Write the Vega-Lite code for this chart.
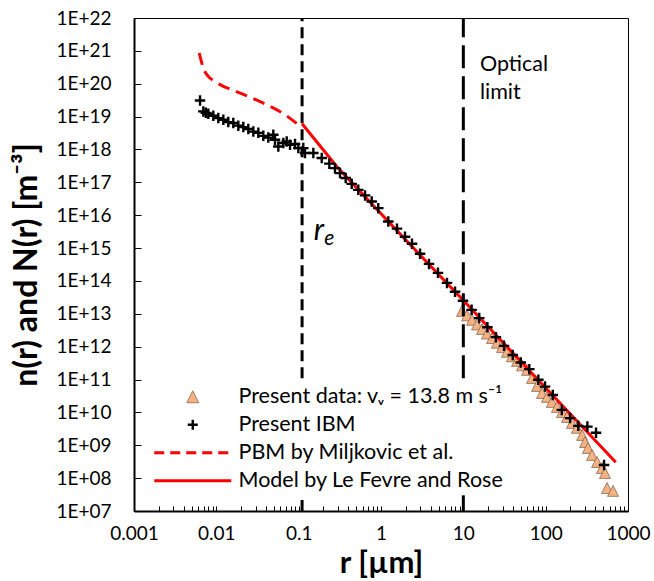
{
  "$schema": "https://vega.github.io/schema/vega-lite/v6.json",
  "width": 494,
  "height": 493,
  "autosize": {"type": "none"},
  "padding": {"left": 134, "top": 18, "right": 26, "bottom": 70},
  "background": "white",
  "config": {
    "view": {"stroke": "black", "strokeWidth": 1},
    "font": "Lato",
    "axis": {"grid": false, "domainColor": "black", "domainWidth": 2, "tickColor": "black", "tickWidth": 1, "labelColor": "black", "titleColor": "black", "labelFont": "Lato", "titleFont": "Lato"},
    "legend": {"title": null, "orient": "none", "direction": "vertical", "symbolSize": 100, "labelFontSize": 21.5, "labelFont": "Lato", "labelColor": "black", "labelOffset": 35, "padding": 0, "labelLimit": 400, "legendX": 48}
  },
  "resolve": {"scale": {"shape": "independent"}, "legend": {"shape": "independent"}},
  "datasets": {
    "present": [
      {"r": 9.64, "n": 1.23e13}, {"r": 11.09, "n": 8.97e12}, {"r": 12.74, "n": 6.55e12}, {"r": 14.65, "n": 4.74e12},
      {"r": 16.85, "n": 3.44e12}, {"r": 19.4, "n": 2.51e12}, {"r": 22.3, "n": 1.83e12}, {"r": 25.6, "n": 1.32e12},
      {"r": 29.5, "n": 9.7e11}, {"r": 33.9, "n": 7.0e11}, {"r": 39.0, "n": 5.1e11}, {"r": 44.9, "n": 3.7e11},
      {"r": 51.6, "n": 2.7e11}, {"r": 59.4, "n": 1.97e11}, {"r": 68.3, "n": 1.12e11}, {"r": 78.6, "n": 6.4e10},
      {"r": 90.3, "n": 3.9e10}, {"r": 104, "n": 2.97e10}, {"r": 119, "n": 2.09e10}, {"r": 137, "n": 1.47e10},
      {"r": 158, "n": 1.03e10}, {"r": 182, "n": 7.3e9}, {"r": 209, "n": 4.8e9}, {"r": 240, "n": 3.4e9},
      {"r": 277, "n": 2.07e9}, {"r": 301, "n": 1.26e9}, {"r": 327, "n": 8.3e8}, {"r": 366, "n": 5.1e8},
      {"r": 421, "n": 3.1e8}, {"r": 484, "n": 2.04e8}, {"r": 526, "n": 1.44e8}, {"r": 556, "n": 5.0e7},
      {"r": 658, "n": 4.1e7}
    ],
    "ibm": [
      {"r": 0.00634, "n": 3.10e19}, {"r": 0.00695, "n": 1.44e19}, {"r": 0.00745, "n": 1.30e19}, {"r": 0.00799, "n": 1.22e19}, {"r": 0.00919, "n": 1.06e19},
      {"r": 0.01057, "n": 9.0e18}, {"r": 0.01216, "n": 8.0e18}, {"r": 0.01397, "n": 6.8e18}, {"r": 0.01607, "n": 6.4e18},
      {"r": 0.01849, "n": 5.3e18}, {"r": 0.02127, "n": 4.8e18}, {"r": 0.02446, "n": 4.2e18}, {"r": 0.02813, "n": 3.5e18},
      {"r": 0.03236, "n": 3.2e18}, {"r": 0.0372, "n": 2.6e18}, {"r": 0.0428, "n": 2.3e18}, {"r": 0.0492, "n": 2.8e18},
      {"r": 0.0516, "n": 1.97e18}, {"r": 0.0566, "n": 1.23e18}, {"r": 0.0651, "n": 1.57e18}, {"r": 0.0716, "n": 1.75e18},
      {"r": 0.0785, "n": 1.39e18}, {"r": 0.0903, "n": 1.46e18}, {"r": 0.0991, "n": 1.10e18}, {"r": 0.1138, "n": 1.10e18},
      {"r": 0.1194, "n": 7.8e17}, {"r": 0.1507, "n": 7.8e17}, {"r": 0.1906, "n": 5.5e17}, {"r": 0.2357, "n": 3.7e17},
      {"r": 0.2761, "n": 2.7e17}, {"r": 0.3177, "n": 1.91e17}, {"r": 0.3725, "n": 1.35e17}, {"r": 0.4406, "n": 9.0e16},
      {"r": 0.530, "n": 5.9e16}, {"r": 0.640, "n": 4.0e16}, {"r": 0.771, "n": 2.6e16}, {"r": 0.927, "n": 1.64e16},
      {"r": 1.227, "n": 6.4e15}, {"r": 1.564, "n": 3.9e15}, {"r": 1.957, "n": 2.2e15}, {"r": 2.38, "n": 1.35e15},
      {"r": 2.98, "n": 6.7e14}, {"r": 3.83, "n": 3.3e14}, {"r": 4.92, "n": 1.76e14}, {"r": 6.33, "n": 8.7e13},
      {"r": 7.93, "n": 4.7e13}, {"r": 9.9, "n": 2.5e13}, {"r": 12.6, "n": 1.32e13}, {"r": 15.6, "n": 7.4e12},
      {"r": 19.6, "n": 3.9e12}, {"r": 24.9, "n": 1.95e12}, {"r": 31.2, "n": 1.06e12}, {"r": 39.8, "n": 5.6e11},
      {"r": 49.8, "n": 3.3e11}, {"r": 63.3, "n": 2.07e11}, {"r": 81.5, "n": 9.8e10}, {"r": 98.2, "n": 6.1e10},
      {"r": 122, "n": 3.4e10}, {"r": 157, "n": 1.19e10}, {"r": 198, "n": 6.7e9}, {"r": 249, "n": 3.9e9},
      {"r": 321, "n": 3.7e9}, {"r": 409, "n": 2.4e9}, {"r": 512, "n": 2.5e8}
    ],
    "pbm": [
      {"r": 0.0062, "n": 8.6e20}, {"r": 0.00695, "n": 3.0e20}, {"r": 0.00798, "n": 1.67e20}, {"r": 0.00964, "n": 1.17e20},
      {"r": 0.01216, "n": 8.3e19}, {"r": 0.01466, "n": 6.9e19}, {"r": 0.02446, "n": 4.1e19}, {"r": 0.0409, "n": 2.3e19},
      {"r": 0.0683, "n": 1.14e19}, {"r": 0.0991, "n": 5.65e18}
    ],
    "model": [
      {"r": 0.11, "n": 6.05e18}, {"r": 0.29, "n": 3.04e17}, {"r": 1.227, "n": 6.4e15}, {"r": 9.83, "n": 2.66e13}, {"r": 710, "n": 3.05e8}
    ],
    "re_line": [{"r": 0.11, "lo": 1.1e11, "hi": 1e22}, {"r": 0.11, "lo": 1e7, "hi": 3e7}],
    "opt_line": [{"r": 10, "lo": 1.1e11, "hi": 1e22}, {"r": 10, "lo": 1e7, "hi": 3e7}]
  },
  "layer": [
    {
      "data": {"name": "present"},
      "mark": {"type": "point", "filled": true, "fill": "#F4B183", "stroke": "#8C6A52", "strokeWidth": 0.8, "opacity": 1, "size": 84},
      "encoding": {
        "x": {"field": "r", "type": "quantitative", "scale": {"type": "log", "domain": [0.001, 1000], "nice": false},
          "axis": {
            "values": [0.001,0.002,0.003,0.004,0.005,0.006,0.007,0.008,0.009,0.01,0.02,0.03,0.04,0.05,0.06,0.07,0.08,0.09,0.1,0.2,0.3,0.4,0.5,0.6,0.7,0.8,0.9,1,2,3,4,5,6,7,8,9,10,20,30,40,50,60,70,80,90,100,200,300,400,500,600,700,800,900,1000],
            "format": "~g",
            "labelExpr": "abs(log(datum.value)/LN10 - round(log(datum.value)/LN10)) < 0.001 ? datum.label : ''",
            "labelOverlap": false, "labelFlush": false, "labelFontSize": 19, "labelPadding": 18,
            "tickSize": -5,
            "title": "r [µm]", "titleFontSize": 31, "titleFontWeight": "bold", "titlePadding": 5
          }},
        "y": {"field": "n", "type": "quantitative", "scale": {"type": "log", "domain": [1e7, 1e22], "nice": false},
          "axis": {
            "values": [1e7,1e8,1e9,1e10,1e11,1e12,1e13,1e14,1e15,1e16,1e17,1e18,1e19,1e20,1e21,1e22],
            "labelExpr": "'1E+' + (round(log(datum.value)/LN10) < 10 ? '0' : '') + round(log(datum.value)/LN10)",
            "labelOverlap": false, "labelFlush": false, "labelFontSize": 19, "labelPadding": 30,
            "tickSize": -7,
            "title": "n(r) and N(r) [m⁻³]", "titleFontSize": 32, "titleFontWeight": "bold", "titlePadding": 12
          }},
        "shape": {"datum": "Present data: vᵥ = 13.8 m s⁻¹", "type": "nominal",
          "scale": {"range": ["M0,-1.2L1.2,1.2L-1.2,1.2Z"]},
          "legend": {"legendY": 368, "symbolStrokeWidth": 0.8}
        }
      }
    },
    {
      "data": {"name": "re_line"},
      "mark": {"type": "rule", "color": "black", "strokeWidth": 3, "strokeDash": [11, 6]},
      "encoding": {"x": {"field": "r", "type": "quantitative"}, "y": {"field": "lo", "type": "quantitative"}, "y2": {"field": "hi"}}
    },
    {
      "data": {"name": "opt_line"},
      "mark": {"type": "rule", "color": "black", "strokeWidth": 3, "strokeDash": [23, 8]},
      "encoding": {"x": {"field": "r", "type": "quantitative"}, "y": {"field": "lo", "type": "quantitative"}, "y2": {"field": "hi"}}
    },
    {
      "data": {"name": "pbm"},
      "mark": {"type": "line", "strokeWidth": 3, "strokeDash": [12, 7], "interpolate": "monotone"},
      "encoding": {
        "x": {"field": "r", "type": "quantitative"},
        "y": {"field": "n", "type": "quantitative"},
        "color": {"datum": "PBM by Miljkovic et al.", "type": "nominal", "scale": {"range": ["red"]},
          "legend": {"legendY": 424, "symbolType": "M-7.7,0L7.7,0", "symbolStrokeWidth": 3, "symbolStrokeColor": "red", "symbolDash": [10, 6]}}
      }
    },
    {
      "data": {"name": "model"},
      "mark": {"type": "line", "strokeWidth": 3},
      "encoding": {
        "x": {"field": "r", "type": "quantitative"},
        "y": {"field": "n", "type": "quantitative"},
        "stroke": {"datum": "Model by Le Fevre and Rose", "type": "nominal", "scale": {"range": ["red"]},
          "legend": {"legendY": 452, "symbolType": "M-7.7,0L7.7,0", "symbolStrokeWidth": 3}}
      }
    },
    {
      "data": {"name": "ibm"},
      "mark": {"type": "point", "filled": false, "stroke": "black", "strokeWidth": 2.4, "opacity": 1, "size": 110},
      "encoding": {
        "x": {"field": "r", "type": "quantitative"},
        "y": {"field": "n", "type": "quantitative"},
        "shape": {"datum": "Present IBM", "type": "nominal",
          "scale": {"range": ["M-1,0L1,0M0,-1L0,1"]},
          "legend": {"legendY": 396, "symbolStrokeWidth": 2.4, "symbolStrokeColor": "black"}
        }
      }
    },
    {
      "data": {"values": [{"r": 15.9, "n": 2.37e20, "t": "Optical\nlimit"}]},
      "mark": {"type": "text", "align": "left", "baseline": "alphabetic", "fontSize": 21.5, "lineHeight": 28, "lineBreak": "\n", "font": "Lato", "color": "black"},
      "encoding": {"x": {"field": "r", "type": "quantitative"}, "y": {"field": "n", "type": "quantitative"}, "text": {"field": "t"}}
    },
    {
      "data": {"values": [{"r": 0.152, "n": 1.78e15, "t": "r"}]},
      "mark": {"type": "text", "align": "left", "baseline": "alphabetic", "fontSize": 30, "fontStyle": "italic", "font": "Lato", "color": "black"},
      "encoding": {"x": {"field": "r", "type": "quantitative"}, "y": {"field": "n", "type": "quantitative"}, "text": {"field": "t"}}
    },
    {
      "data": {"values": [{"r": 0.205, "n": 1.26e15, "t": "e"}]},
      "mark": {"type": "text", "align": "left", "baseline": "alphabetic", "fontSize": 21, "fontStyle": "italic", "font": "Lato", "color": "black"},
      "encoding": {"x": {"field": "r", "type": "quantitative"}, "y": {"field": "n", "type": "quantitative"}, "text": {"field": "t"}}
    }
  ]
}
